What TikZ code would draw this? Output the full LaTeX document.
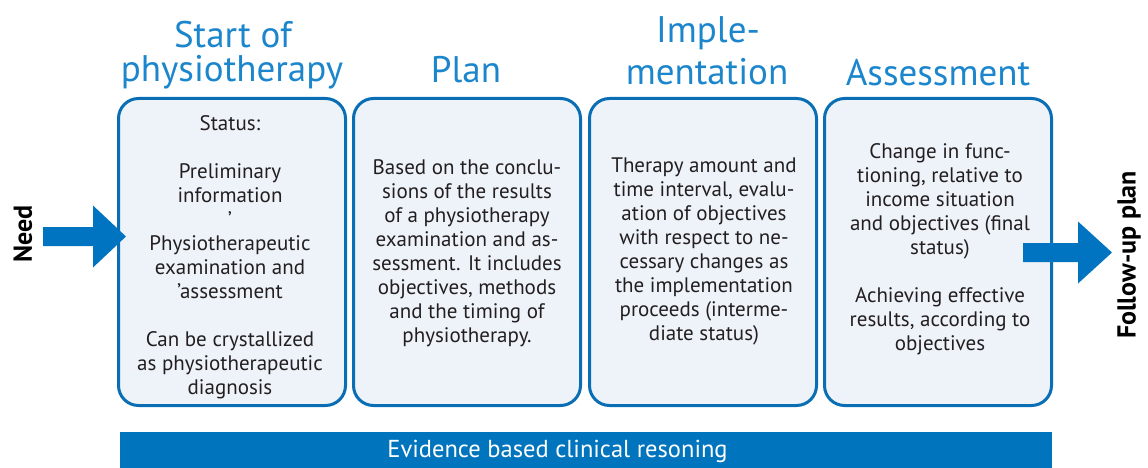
\documentclass[tikz,border=0pt]{standalone}
\usepackage{fontspec}
\setmainfont{PT Sans}
\definecolor{titleblue}{HTML}{1C86CC}
\definecolor{borderblue}{HTML}{0A6EB4}
\definecolor{arrowblue}{HTML}{0074C1}
\definecolor{barblue}{HTML}{0075BE}
\definecolor{boxfill}{HTML}{EEF3FA}
\definecolor{bodytext}{HTML}{231F20}
\begin{document}
\begin{tikzpicture}[x=1pt,y=-1pt,
  stagebox/.style={draw=borderblue, fill=boxfill, line width=3pt, rounded corners=20pt,
    minimum width=227pt, minimum height=307pt, inner sep=0pt},
  bodytxt/.style={align=center, text=bodytext, inner sep=0pt,
    font=\fontsize{21}{24}\selectfont},
  titletxt/.style={anchor=base, text=titleblue, inner sep=0pt,
    font=\fontsize{37}{40}\selectfont},
  sidelabel/.style={rotate=90, text=black, inner sep=0pt,
    font=\fontsize{26}{30}\selectfont\bfseries},
  bigarrow/.style={fill=arrowblue}
]
\useasboundingbox (0,0) rectangle (1148,468);

% titles
\node[titletxt] (ti1a) at (233,48) {Start of};
\node[titletxt] (ti1b) at (232,82) {physiotherapy};
\node[titletxt] (ti2) at (466,83) {Plan};
\node[titletxt] (ti3a) at (708,43) {Imple-};
\node[titletxt] (ti3b) at (707,85) {mentation};
\node[titletxt] (ti4) at (938,86) {Assessment};

% boxes
\node[stagebox] (b1) at (232,252) {};
\node[stagebox] (b2) at (467,252) {};
\node[stagebox] (b3) at (703,252) {};
\node[stagebox] (b4) at (938,252) {};

% box texts
\node[bodytxt] (t1) at (230,257) {Status:\\[24pt]Preliminary\\information\\’\\Physiotherapeutic\\examination and\\’assessment\\[24pt]Can be crystallized\\as physiotherapeutic\\diagnosis};
\node[bodytxt] (t2) at (467,253) {Based on the conclu-\\sions of the results\\of a physiotherapy\\examination and as-\\sessment. It includes\\objectives, methods\\and the timing of\\physiotherapy.};
\node[bodytxt] (t3) at (704,251) {Therapy amount and\\time interval, evalu-\\ation of objectives\\with respect to ne-\\cessary changes as\\the implementation\\proceeds (interme-\\diate status)};
\node[bodytxt] (t4) at (940,249) {Change in func-\\tioning, relative to\\income situation\\and objectives (final\\status)\\[24pt]Achieving effective\\results, according to\\objectives};

% bottom bar
\node[fill=barblue, minimum width=932pt, minimum height=36pt, inner sep=0pt, anchor=north west] (bar) at (120,432) {};
\node[text=white, font=\fontsize{24.5}{28}\selectfont, inner sep=0pt, anchor=base] (bartxt) at (557.5,457) {Evidence based clinical resoning};

% side labels
\node[sidelabel] (need) at (23,234) {Need};
\node[sidelabel] (follow) at (1129,255) {Follow-up plan};

% arrows
\coordinate (needtip) at (126,236.5);
\fill[bigarrow] (needtip) -- ++(-33,-31) -- ++(0,21.5) -- ++(-50,0) -- ++(0,19) -- ++(50,0) -- ++(0,21.5) -- cycle;
\coordinate (followtip) at (1112,252.5);
\fill[bigarrow] (followtip) -- ++(-34,-31) -- ++(0,21.5) -- ++(-55,0) -- ++(0,19) -- ++(55,0) -- ++(0,21.5) -- cycle;
\end{tikzpicture}
\end{document}
